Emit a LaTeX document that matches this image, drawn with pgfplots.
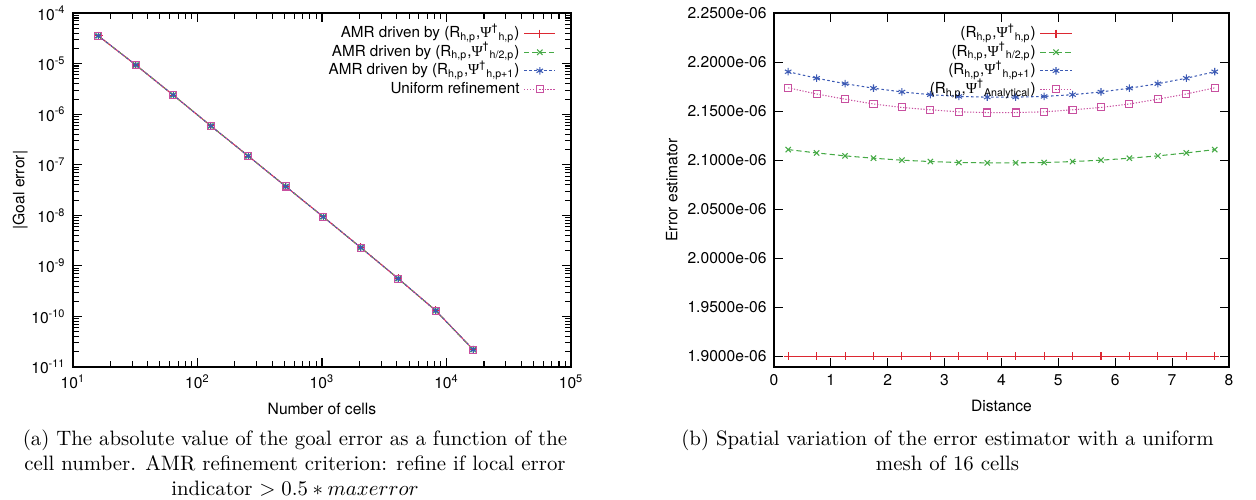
\documentclass[border=0pt]{standalone}
\usepackage{fontspec}
\usepackage{pgfplots}
\pgfplotsset{compat=1.18}
\newfontfamily\hel{TeX Gyre Heros}
\newfontfamily\psy{Liberation Serif}
\definecolor{cRed}{RGB}{220,40,50}
\definecolor{cGreen}{RGB}{70,170,70}
\definecolor{cBlue}{RGB}{60,90,180}
\definecolor{cPink}{RGB}{200,80,160}
\newcommand{\RP}[1]{(R\textsubscript{h,p},{\psy Ψ}\textsuperscript{†}\textsubscript{#1})}
\pgfplotstableread{
x y
16 3.55e-5
32 9.42e-6
64 2.39e-6
128 5.89e-7
256 1.49e-7
512 3.73e-8
1024 9.35e-9
2048 2.31e-9
4096 5.62e-10
8192 1.31e-10
16384 2.21e-11
}\goal
\pgfplotstableread{
x red green blue pink
0.25 1.9e-6 2.1108e-6 2.1902e-6 2.1738e-6
0.75 1.9e-6 2.1074e-6 2.1836e-6 2.1675e-6
1.25 1.9e-6 2.1044e-6 2.1780e-6 2.1622e-6
1.75 1.9e-6 2.1020e-6 2.1734e-6 2.1573e-6
2.25 1.9e-6 2.1000e-6 2.1696e-6 2.1538e-6
2.75 1.9e-6 2.0986e-6 2.1668e-6 2.1514e-6
3.25 1.9e-6 2.0976e-6 2.1650e-6 2.1493e-6
3.75 1.9e-6 2.0973e-6 2.1643e-6 2.1486e-6
4.25 1.9e-6 2.0973e-6 2.1643e-6 2.1486e-6
4.75 1.9e-6 2.0976e-6 2.1650e-6 2.1493e-6
5.25 1.9e-6 2.0986e-6 2.1668e-6 2.1514e-6
5.75 1.9e-6 2.1000e-6 2.1696e-6 2.1538e-6
6.25 1.9e-6 2.1020e-6 2.1734e-6 2.1573e-6
6.75 1.9e-6 2.1044e-6 2.1780e-6 2.1622e-6
7.25 1.9e-6 2.1074e-6 2.1836e-6 2.1675e-6
7.75 1.9e-6 2.1108e-6 2.1902e-6 2.1738e-6
}\spatial
\pgfplotsset{
  gp/.style={
    scale only axis,
    font=\hel\fontsize{7.5}{9}\selectfont,
    /pgf/number format/assume math mode=true,
    axis line style={line width=0.6pt},
    tick style={line width=0.5pt, black},
    legend style={draw=none, fill=none, legend cell align=right,
      font=\hel\fontsize{7.3}{9}\selectfont, row sep=0pt,
      nodes={text height=5.4pt, text depth=1.6pt, inner ysep=0.95pt, inner xsep=2pt}},
    legend plot pos=right,
    legend image code/.code={
      \draw[mark repeat=2,mark phase=2] plot coordinates {(0pt,0pt) (7.5pt,0pt) (15pt,0pt)};
    },
  },
}
\begin{document}
\begin{tikzpicture}
\useasboundingbox (0,0) rectangle (602.88pt,240pt);
\begin{axis}[gp,
  at={(35pt,63.8pt)}, anchor=south west,
  width=239.1pt, height=169.9pt,
  xmode=log, ymode=log,
  xmin=10, xmax=1e5, ymin=1e-11, ymax=1e-4,
  xtick={10,100,1000,10000,100000},
  xticklabels={10\textsuperscript{1},10\textsuperscript{2},10\textsuperscript{3},10\textsuperscript{4},10\textsuperscript{5}},
  ytick={1e-11,1e-10,1e-9,1e-8,1e-7,1e-6,1e-5,1e-4},
  yticklabels={10\textsuperscript{-11},10\textsuperscript{-10},10\textsuperscript{-9},10\textsuperscript{-8},10\textsuperscript{-7},10\textsuperscript{-6},10\textsuperscript{-5},10\textsuperscript{-4}},
  xlabel={Number of cells},
  ylabel={|Goal error|},
  ylabel style={at={(axis description cs:-0.106,0.5)}, anchor=center},
  legend style={at={(rel axis cs:0.983,0.981)}, anchor=north east},
]
\addplot[color=cRed, line width=0.5pt, solid, mark=+, mark size=2pt, mark options={solid}] table[x=x,y=y] {\goal};
\addlegendentry{AMR driven by \RP{h,p}}
\addplot[color=cGreen, line width=0.5pt, dash pattern=on 2.5pt off 1.5pt, mark=x, mark size=1.8pt, mark options={solid}] table[x=x,y=y] {\goal};
\addlegendentry{AMR driven by \RP{h/2,p}}
\addplot[color=cBlue, line width=0.5pt, dash pattern=on 1.2pt off 1.2pt, mark=asterisk, mark size=1.8pt, mark options={solid}] table[x=x,y=y] {\goal};
\addlegendentry{AMR driven by \RP{h,p+1}}
\addplot[color=cPink, line width=0.5pt, dash pattern=on 0.6pt off 0.8pt, mark=square, mark size=1.7pt, mark options={solid}] table[x=x,y=y] {\goal};
\addlegendentry{Uniform refinement}
\end{axis}
\begin{axis}[gp,
  at={(371.5pt,63.8pt)}, anchor=south west,
  width=218.4pt, height=169.9pt,
  xmin=0, xmax=8, ymin=1.889e-6, ymax=2.25e-6,
  xtick={0,1,...,8},
  scaled y ticks=false,
  ytick={1.9e-6,1.95e-6,2.0e-6,2.05e-6,2.1e-6,2.15e-6,2.2e-6,2.25e-6},
  yticklabels={1.9000e-06,1.9500e-06,2.0000e-06,2.0500e-06,2.1000e-06,2.1500e-06,2.2000e-06,2.2500e-06},
  xlabel={Distance},
  ylabel={Error estimator},
  ylabel style={at={(axis description cs:-0.2244,0.5)}, anchor=center},
  legend style={at={(rel axis cs:0.67,0.981)}, anchor=north east},
]
\addplot[color=cRed, line width=0.5pt, solid, mark=+, mark size=2pt, mark options={solid}] table[x=x,y=red] {\spatial};
\addlegendentry{\RP{h,p}}
\addplot[color=cGreen, line width=0.5pt, dash pattern=on 2.5pt off 1.5pt, mark=x, mark size=1.8pt, mark options={solid}] table[x=x,y=green] {\spatial};
\addlegendentry{\RP{h/2,p}}
\addplot[color=cBlue, line width=0.5pt, dash pattern=on 1.2pt off 1.2pt, mark=asterisk, mark size=1.8pt, mark options={solid}] table[x=x,y=blue] {\spatial};
\addlegendentry{\RP{h,p+1}}
\addplot[color=cPink, line width=0.5pt, dash pattern=on 0.6pt off 0.8pt, mark=square, mark size=1.7pt, mark options={solid}] table[x=x,y=pink] {\spatial};
\addlegendentry{\RP{Analytical}}
\end{axis}
\node[anchor=north, align=center, inner sep=0pt, font=\fontsize{10}{12}\selectfont] at (141.6pt,33.8pt)
 {(a) The absolute value of the goal error as a function of the\\
  cell number. AMR refinement criterion: refine if local error\\
  indicator $> 0.5*maxerror$};
\node[anchor=north, align=center, inner sep=0pt, font=\fontsize{10}{12}\selectfont] at (454.8pt,33.8pt)
 {(b) Spatial variation of the error estimator with a uniform\\
  mesh of 16 cells};
\end{tikzpicture}
\end{document}
